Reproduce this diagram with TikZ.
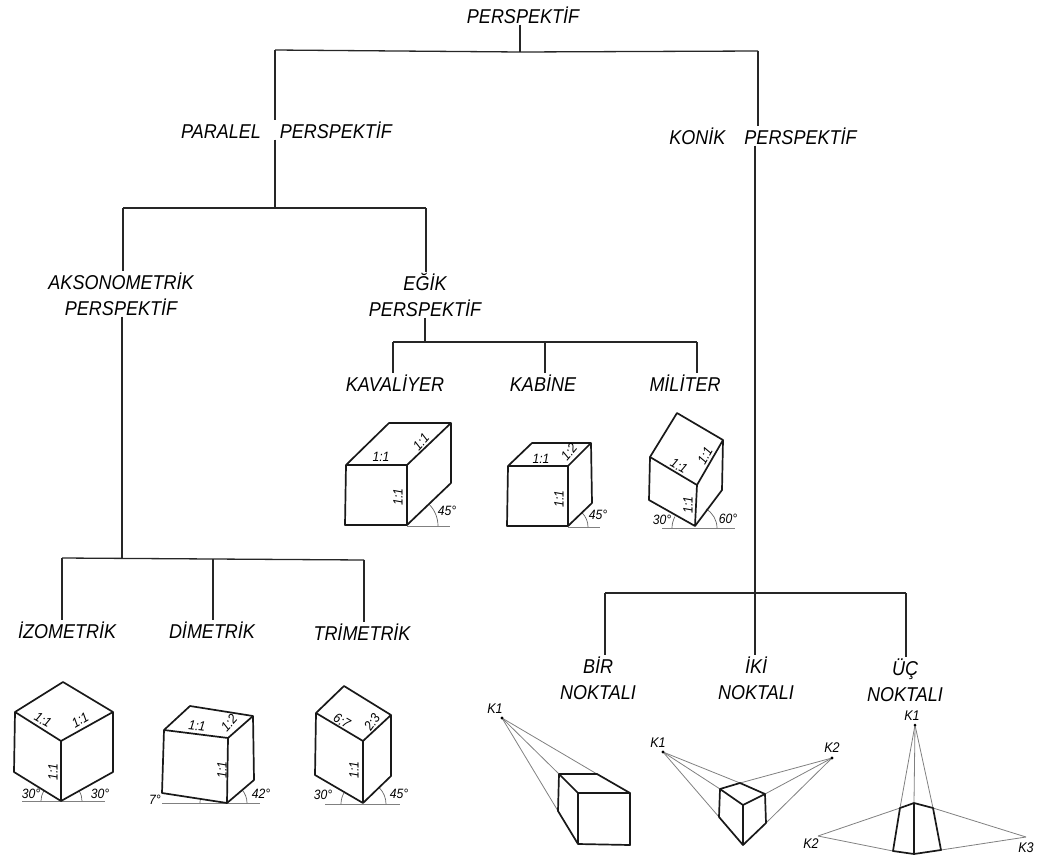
\documentclass[tikz,border=0pt]{standalone}
\usepackage{fontspec}
\setmainfont[FakeStretch=0.9]{Liberation Sans}
\begin{document}
\begin{tikzpicture}[x=1pt,y=-1pt,
  lab/.style={font=\fontsize{20}{20}\selectfont\itshape,inner sep=1pt,align=center},
  labm/.style={font=\fontsize{20}{26}\selectfont\itshape,inner sep=1pt,align=center},
  tiny/.style={font=\fontsize{13.5}{13.5}\selectfont\itshape,inner sep=0pt},
  kp/.style={font=\fontsize{14}{14}\selectfont\itshape,inner sep=0pt},
  tree/.style={line width=1.3pt,black!85},
  cube/.style={line width=1.7pt,line join=round,black!90},
  ray/.style={line width=0.8pt,black!50},
  base/.style={line width=0.9pt,black!50},
  ang/.style={line width=0.7pt,black!60}]
\useasboundingbox (0,0) rectangle (1037,857);
% tree labels
\node[lab] (root) at (523,15) {PERSPEKTİF};
\node[lab] (par) at (286.5,130) {PARALEL\hspace{14pt} PERSPEKTİF};
\node[lab] (kon) at (763,136) {KONİK\hspace{14pt} PERSPEKTİF};
\node[labm] (aks) at (121,294) {AKSONOMETRİK\\PERSPEKTİF};
\node[labm] (egik) at (425,295) {EĞİK\\PERSPEKTİF};
\node[lab] (kav) at (395,383) {KAVALİYER};
\node[lab] (kab) at (543,383) {KABİNE};
\node[lab] (mil) at (685,383) {MİLİTER};
\node[lab] (izo) at (67,630) {İZOMETRİK};
\node[lab] (dim) at (212,630) {DİMETRİK};
\node[lab] (tri) at (362,632) {TRİMETRİK};
\node[labm] (bir) at (598,678) {BİR\\NOKTALI};
\node[labm] (iki) at (756,678) {İKİ\\NOKTALI};
\node[labm] (uc) at (905,680) {ÜÇ\\NOKTALI};
% junctions
\coordinate (j0) at (520,52);
\coordinate (j0l) at (275,50);
\coordinate (j0r) at (758,51);
\coordinate (j1) at (275,208);
\coordinate (j1l) at (123,208);
\coordinate (j1r) at (426,208);
\coordinate (j2) at (122,558);
\coordinate (j2l) at (62,558);
\coordinate (j2m) at (213,559);
\coordinate (j2r) at (364,560);
\coordinate (j3) at (425,342);
\coordinate (j3l) at (393,342);
\coordinate (j3m) at (545,342);
\coordinate (j3r) at (697,342);
\coordinate (j4) at (755,593);
\coordinate (j4l) at (605,593);
\coordinate (j4r) at (906,593);
% tree connectors
\draw[tree] (root.south -| j0) -- (j0);
\draw[tree] (j0l) -- (j0) -- (j0r);
\draw[tree] (j0l) -- (par.north -| j0l);
\draw[tree] (j0r) -- (kon.north -| j0r);
\draw[tree] (par.south -| j1) -- (j1);
\draw[tree] (j1l) -- (j1r);
\draw[tree] (j1l) -- (aks.north -| j1l);
\draw[tree] (j1r) -- (egik.north -| j1r);
\draw[tree] (aks.south -| j2) -- (j2);
\draw[tree] (j2l) -- (j2m) -- (j2r);
\draw[tree] (j2l) -- (izo.north -| j2l);
\draw[tree] (j2m) -- (dim.north -| j2m);
\draw[tree] (j2r) -- (tri.north -| j2r);
\draw[tree] (egik.south -| j3) -- (j3);
\draw[tree] (j3l) -- (j3r);
\draw[tree] (j3l) -- (kav.north -| j3l);
\draw[tree] (j3m) -- (kab.north -| j3m);
\draw[tree] (j3r) -- (mil.north -| j3r);
\draw[tree] (kon.south -| j4) -- (j4);
\draw[tree] (j4l) -- (j4r);
\draw[tree] (j4l) -- (bir.north -| j4l);
\draw[tree] (j4) -- (iki.north -| j4);
\draw[tree] (j4r) -- (uc.north -| j4r);
% izometrik cube
\draw[base] (22,801) -- (105,801);
\draw[ang] (41,801) arc (180:210:20);
\draw[ang] (82,801) arc (0:-30:21);
\draw[cube] (63,682) -- (113,712) -- (113,772) -- (61,801) -- (14,772) -- (15,712) -- cycle;
\draw[cube] (15,712) -- (61,741) -- (113,712);
\draw[cube] (61,741) -- (61,801);
\node[tiny,rotate=-30] at (43,720) {1:1};
\node[tiny,rotate=30] at (80,720) {1:1};
\node[tiny,rotate=90] at (53,772) {1:1};
\node[tiny] at (31,794) {30°};
\node[tiny] at (100,794) {30°};
% dimetrik cube
\draw[base] (162,803) -- (260,803);
\draw[ang] (247,803) arc (0:-42:20);
\draw[ang] (200,803) arc (180:187:27);
\draw[cube] (190,706) -- (253,716) -- (254,780) -- (227,803) -- (162,793) -- (164,730) -- cycle;
\draw[cube] (164,730) -- (228,738) -- (253,716);
\draw[cube] (228,738) -- (227,803);
\node[tiny,rotate=-7] at (197,726) {1:1};
\node[tiny,rotate=48] at (229,723) {1:2};
\node[tiny,rotate=90] at (222,770) {1:1};
\node[tiny] at (155,800) {7°};
\node[tiny] at (261,794) {42°};
% trimetrik cube
\draw[base] (325,804) -- (400,804);
\draw[ang] (341,804) arc (180:210:22);
\draw[ang] (386,804) arc (0:-45:23);
\draw[cube] (344,686) -- (391,715) -- (391,776) -- (363,803) -- (315,775) -- (316,713) -- cycle;
\draw[cube] (316,713) -- (363,741) -- (391,715);
\draw[cube] (363,741) -- (363,803);
\node[tiny,rotate=-30] at (342,721) {6:7};
\node[tiny,rotate=55] at (372,722) {2:3};
\node[tiny,rotate=90] at (354,770) {1:1};
\node[tiny] at (323,795) {30°};
\node[tiny] at (399,794) {45°};
% kavaliyer cube
\draw[base] (407,526) -- (450,526);
\draw[ang] (438,526) arc (0:-45:31);
\draw[cube] (346,465) -- (389,423) -- (451,423) -- (451,483) -- (407,525) -- (345,525) -- cycle;
\draw[cube] (346,465) -- (407,465) -- (451,423);
\draw[cube] (407,465) -- (407,525);
\node[tiny] at (381,457) {1:1};
\node[tiny,rotate=48] at (421,442) {1:1};
\node[tiny,rotate=90] at (398,497) {1:1};
\node[tiny] at (447,511) {45°};
% kabine cube
\draw[base] (568,527) -- (600,527);
\draw[ang] (588,527) arc (0:-45:20);
\draw[cube] (508,466) -- (532,443) -- (591,443) -- (592,503) -- (568,526) -- (507,526) -- cycle;
\draw[cube] (508,466) -- (568,466) -- (591,443);
\draw[cube] (568,466) -- (568,526);
\node[tiny] at (541,459) {1:1};
\node[tiny,rotate=50] at (569,452) {1:2};
\node[tiny,rotate=90] at (559,499) {1:1};
\node[tiny] at (598,515) {45°};
% militer cube
\draw[base] (662,528) -- (735,528);
\draw[ang] (672,528) arc (180:210:23);
\draw[ang] (717,528) arc (0:-60:22);
\draw[cube] (677,413) -- (723,440) -- (722,490) -- (695,526) -- (649,500) -- (650,457) -- cycle;
\draw[cube] (650,457) -- (697,485) -- (723,440);
\draw[cube] (697,485) -- (695,526);
\node[tiny,rotate=-30] at (679,466) {1:1};
\node[tiny,rotate=60] at (705,456) {1:1};
\node[tiny,rotate=90] at (688,505) {1:1};
\node[tiny] at (662,520) {30°};
\node[tiny] at (728,519) {60°};
% bir noktali
\node[kp] (a1) at (495,709) {K1};
\coordinate (ak) at (502,718);
\coordinate (ab) at (559,774);
\coordinate (ac) at (597,774);
\coordinate (ad) at (558,811);
\draw[ray] (ak) -- (ab);
\draw[ray] (ak) -- (ac);
\draw[ray] (ak) -- (ad);
\fill (ak) circle (1.6);
\draw[cube] (ab) -- (ac) -- (630,793) -- (630,845) -- (578,844) -- (ad) -- cycle;
\draw[cube] (ab) -- (578,793) -- (630,793);
\draw[cube] (578,793) -- (578,844);
% iki noktali
\node[kp] (b1) at (658,743) {K1};
\node[kp] (b2) at (832,748) {K2};
\coordinate (bk1) at (663,752);
\coordinate (bk2) at (832,758);
\coordinate (bt) at (740,783);
\coordinate (bl) at (720,789);
\coordinate (br) at (765,794);
\coordinate (bll) at (719,817);
\coordinate (blr) at (766,823);
\draw[ray] (bk1) -- (bt);
\draw[ray] (bk1) -- (bl);
\draw[ray] (bk1) -- (bll);
\draw[ray] (bk2) -- (bt);
\draw[ray] (bk2) -- (br);
\draw[ray] (bk2) -- (blr);
\fill (bk1) circle (1.6);
\fill (bk2) circle (1.6);
\draw[cube] (bt) -- (br) -- (blr) -- (743,845) -- (bll) -- (bl) -- cycle;
\draw[cube] (bl) -- (743,805) -- (br);
\draw[cube] (743,805) -- (743,845);
% uc noktali
\node[kp] (c1) at (912,716) {K1};
\node[kp] (c2) at (811,844) {K2};
\node[kp] (c3) at (1026,848) {K3};
\coordinate (ck1) at (915,725);
\coordinate (ck2) at (818,836);
\coordinate (ck3) at (1026,837);
\coordinate (ct) at (914,803);
\coordinate (cl) at (900,808);
\coordinate (cr) at (933,808);
\coordinate (cb) at (914,854);
\coordinate (cll) at (893,851);
\coordinate (clr) at (941,850);
\draw[ray] (ck1) -- (cl);
\draw[ray] (ck1) -- (ct);
\draw[ray] (ck1) -- (cr);
\draw[ray] (ck2) -- (cl);
\draw[ray] (ck2) -- (cll);
\draw[ray] (ck3) -- (cr);
\draw[ray] (ck3) -- (clr);
\fill (ck1) circle (1.5);
\draw[cube] (cl) -- (ct) -- (cr) -- (clr) -- (cb) -- (cll) -- cycle;
\draw[cube] (ct) -- (cb);
\end{tikzpicture}
\end{document}
